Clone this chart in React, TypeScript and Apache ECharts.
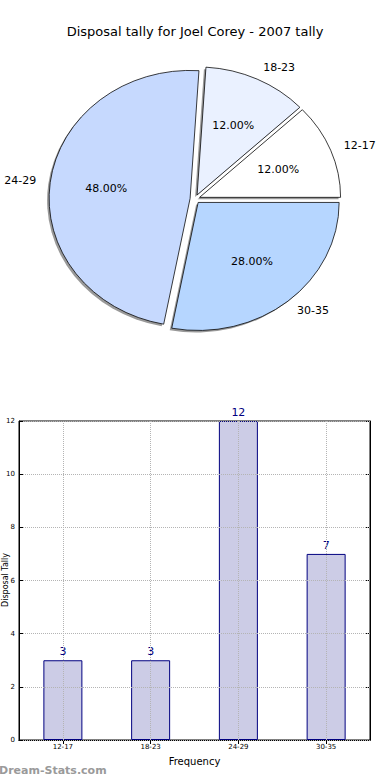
import React, { useEffect, useRef } from "react";
import * as echarts from "echarts";

const titleText = "Disposal tally for Joel Corey - 2007 tally";
const categories = ["12-17", "18-23", "24-29", "30-35"];
const counts = [3, 3, 12, 7];
const sliceColors = ["#ffffff", "#eaf1ff", "#c6d9fe", "#b6d6ff"];
const yTicks = { min: 0, max: 12, interval: 2 };
const xAxisName = "Frequency";
const yAxisName = "Disposal Tally";
const watermark = "Dream-Stats.com";

const FONT = "DejaVu Sans";

export default function App() {
  const ref = useRef<HTMLDivElement>(null);
  useEffect(() => {
    document.body.style.margin = "0";
    const chart = echarts.init(ref.current!, null, { renderer: "svg" });
    const total = counts.reduce((a, b) => a + b, 0);
    const cx = 195, cy = 199, rx = 141, ry = 128, explode = 0.035;

    const renderItem = (params: any, api: any) => {
      const i = params.dataIndex;
      let before = 0;
      for (let k = 0; k < i; k++) before += counts[k];
      const v = api.value(0);
      const t1 = (before / total) * 2 * Math.PI;
      const t2 = ((before + v) / total) * 2 * Math.PI;
      const tm = (t1 + t2) / 2;
      const ox = cx + explode * rx * Math.cos(tm);
      const oy = cy - explode * ry * Math.sin(tm);
      const pct = ((v / total) * 100).toFixed(2) + "%";
      const lx = ox + 1.1 * rx * Math.cos(tm);
      const ly = oy - 1.1 * ry * Math.sin(tm);
      const px = ox + 0.6 * rx * Math.cos(tm);
      const py = oy - 0.6 * ry * Math.sin(tm);
      const shape = { cx: 0, cy: 0, r: rx, r0: 0, startAngle: -t2, endAngle: -t1, clockwise: true };
      return {
        type: "group",
        children: [
          {
            type: "group",
            x: ox - 2,
            y: oy + 2,
            scaleY: ry / rx,
            children: [
              { type: "sector", shape, z2: 0, style: { fill: "rgba(70,70,70,0.55)", stroke: "none" } },
            ],
          },
          {
            type: "group",
            x: ox,
            y: oy,
            scaleY: ry / rx,
            children: [
              {
                type: "sector",
                shape,
                z2: 10,
                style: { fill: sliceColors[i], stroke: "#000000", lineWidth: 0.8 },
              },
            ],
          },
          {
            type: "text",
            x: px,
            y: py,
            z2: 20,
            style: { text: pct, fill: "#000", fontSize: 11, fontFamily: FONT, align: "center", verticalAlign: "middle" },
          },
          {
            type: "text",
            x: lx,
            y: ly,
            z2: 20,
            style: {
              text: categories[i],
              fill: "#000",
              fontSize: 11,
              fontFamily: FONT,
              align: Math.cos(tm) > 0 ? "left" : "right",
              verticalAlign: "middle",
            },
          },
        ],
      };
    };

    chart.setOption({
      animation: false,
      backgroundColor: "#ffffff",
      textStyle: { fontFamily: FONT },
      title: {
        text: titleText,
        left: "center",
        top: 20,
        textStyle: { fontSize: 13, fontWeight: "normal", color: "#000", fontFamily: FONT },
      },
      grid: {
        left: 19,
        top: 421,
        width: 351,
        height: 319,
        show: true,
        borderColor: "#000",
        borderWidth: 1,
        backgroundColor: "transparent",
      },
      xAxis: [
        {
          type: "category",
          data: categories,
          position: "bottom",
          name: xAxisName,
          nameLocation: "middle",
          nameGap: 16,
          nameTextStyle: { fontSize: 10, color: "#000", fontFamily: FONT },
          axisLine: { show: true, lineStyle: { color: "#000" } },
          axisTick: { show: true, inside: true, alignWithLabel: true, length: 4, lineStyle: { color: "#000" } },
          axisLabel: { fontSize: 7, color: "#000", margin: 3, fontFamily: FONT },
          splitLine: { show: false },
        },
        {
          type: "category",
          data: categories,
          position: "top",
          axisLine: { show: true, lineStyle: { color: "#000" } },
          axisTick: { show: true, inside: true, alignWithLabel: true, length: 4, lineStyle: { color: "#000" } },
          axisLabel: { show: false },
          splitLine: { show: false },
        },
      ],
      yAxis: [
        {
          type: "value",
          min: yTicks.min,
          max: yTicks.max,
          interval: yTicks.interval,
          z: 3,
          axisLine: { show: true, lineStyle: { color: "#000" } },
          axisTick: { show: true, inside: true, length: 4, lineStyle: { color: "#000" } },
          axisLabel: { fontSize: 7, color: "#000", margin: 4, fontFamily: FONT },
          splitLine: { show: true, lineStyle: { type: "dotted", color: "#b4b4b4", width: 1 } },
        },
        {
          type: "value",
          min: yTicks.min,
          max: yTicks.max,
          interval: yTicks.interval,
          position: "right",
          axisLine: { show: true, lineStyle: { color: "#000" } },
          axisTick: { show: true, inside: true, length: 4, lineStyle: { color: "#000" } },
          axisLabel: { show: false },
          splitLine: { show: false },
        },
      ],
      graphic: [
        {
          type: "text",
          x: 5,
          y: 580,
          rotation: Math.PI / 2,
          style: { text: yAxisName, fontSize: 8, fill: "#000", fontFamily: FONT, align: "center", verticalAlign: "middle" },
        },
        {
          type: "text",
          x: -1,
          y: 770,
          style: {
            text: watermark,
            fontSize: 11,
            fontWeight: "bold",
            fill: "#9a9a9a",
            fontFamily: FONT,
            align: "left",
            verticalAlign: "middle",
          },
        },
      ],
      series: [
        {
          type: "custom",
          coordinateSystem: "none",
          renderItem,
          data: counts,
          silent: true,
        },
        {
          type: "bar",
          xAxisIndex: 0,
          yAxisIndex: 0,
          data: counts,
          barWidth: 39,
          itemStyle: { color: "#cccce6", borderColor: "#000080", borderWidth: 1 },
          label: { show: true, position: "top", distance: 3, color: "#000080", fontSize: 11, fontFamily: FONT },
          markLine: {
            silent: true,
            symbol: "none",
            z: 5,
            label: { show: false },
            lineStyle: { type: "dotted", color: "#b4b4b4", width: 1 },
            data: categories.map((c) => ({ xAxis: c })),
          },
        },
      ],
    });
    return () => chart.dispose();
  }, []);
  return <div ref={ref} style={{ width: 390, height: 780 }} />;
}
